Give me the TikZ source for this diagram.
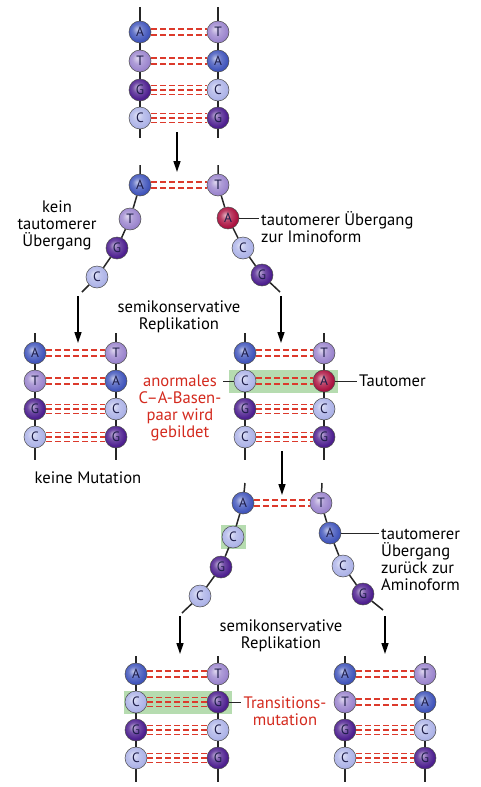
\documentclass[tikz,border=0pt]{standalone}
\usepackage{fontspec}
\setmainfont{PT Sans}
\usetikzlibrary{arrows.meta}

\definecolor{adenin}{HTML}{4256BC}
\definecolor{thymin}{HTML}{9C86CE}
\definecolor{guanin}{HTML}{4E2090}
\definecolor{cytosin}{HTML}{AEB4E8}
\definecolor{imino}{HTML}{AC1442}
\definecolor{bondred}{HTML}{DC3A2C}
\definecolor{notered}{HTML}{D42A1E}
\definecolor{boxgreen}{HTML}{B6DCB0}
\definecolor{letter}{HTML}{1C1C48}

% soft ball look for the bases
\newcommand{\nucshading}[2]{%
  \pgfdeclareradialshading{#1}{\pgfpoint{-7bp}{7bp}}{%
    color(0bp)=(#2!35!white); color(12bp)=(#2!80!white);
    color(24bp)=(#2); color(36bp)=(#2!80!black); color(50bp)=(#2!60!black)}}
\nucshading{shadeA}{adenin}
\nucshading{shadeT}{thymin}
\nucshading{shadeG}{guanin}
\nucshading{shadeC}{cytosin}
\nucshading{shadeI}{imino}

% hydrogen bonds: two for A-T, three for G-C
\newcommand{\hbtwo}[2]{%
  \draw[hb] ([yshift=3pt]#1.east) -- ([yshift=3pt]#2.west);
  \draw[hb] ([yshift=-3pt]#1.east) -- ([yshift=-3pt]#2.west);}
\newcommand{\hbthree}[2]{%
  \draw[hb] ([yshift=4.5pt]#1.east) -- ([yshift=4.5pt]#2.west);
  \draw[hb] (#1.east) -- (#2.west);
  \draw[hb] ([yshift=-4.5pt]#1.east) -- ([yshift=-4.5pt]#2.west);}

\begin{document}
\begin{tikzpicture}[x=1pt, y=-1pt,
  nuc/.style={circle, minimum size=22pt, inner sep=0pt, draw=black!70,
    line width=0.5pt, text=letter, font=\fontsize{13.5}{13.5}\selectfont},
  ade/.style={nuc, shading=shadeA},
  thy/.style={nuc, shading=shadeT},
  gua/.style={nuc, shading=shadeG},
  cyt/.style={nuc, shading=shadeC},
  imi/.style={nuc, shading=shadeI},
  strand/.style={line width=1.5pt, black!85},
  hb/.style={draw=bondred, line width=1.1pt, dash pattern=on 6pt off 3pt},
  repl/.style={line width=1.4pt, -{Triangle[length=11pt, width=7pt]}},
  lbl/.style={font=\fontsize{16.6}{17}\selectfont, align=center, inner sep=2pt},
  note/.style={lbl, text=notered},
  pointer/.style={line width=0.8pt, black!85},
  hilite/.style={fill=boxgreen}]

  \useasboundingbox[fill=white] (0,0) rectangle (481,787);

  \fill[hilite] (229,370) rectangle (338,393);
  \fill[hilite] (221,525) rectangle (246,549);
  \fill[hilite] (124,691) rectangle (232,714);

  % parent double strand
  \node[ade] (a1) at (140,32) {A};
  \node[thy] (a2) at (140,61) {T};
  \node[gua] (a3) at (140,90) {G};
  \node[cyt] (a4) at (140,118) {C};
  \node[thy] (b1) at (218,32) {T};
  \node[ade] (b2) at (218,61) {A};
  \node[cyt] (b3) at (218,90) {C};
  \node[gua] (b4) at (218,118) {G};
  \coordinate (a0) at (140,7);
  \coordinate (a5) at (140,138);
  \coordinate (b0) at (218,7);
  \coordinate (b5) at (218,138);

  % opening strands
  \node[ade] (c1) at (140,185) {A};
  \node[thy] (c2) at (130,219) {T};
  \node[gua] (c3) at (117,248) {G};
  \node[cyt] (c4) at (97,277) {C};
  \node[thy] (d1) at (218,185) {T};
  \node[imi] (d2) at (228,218) {A};
  \node[cyt] (d3) at (243,248) {C};
  \node[gua] (d4) at (262,275) {G};
  \coordinate (c0) at (140,165);
  \coordinate (c5) at (82,292);
  \coordinate (d0) at (218,165);
  \coordinate (d5) at (280,292);

  % first replication, left
  \node[ade] (e1) at (35,353) {A};
  \node[thy] (e2) at (35,381) {T};
  \node[gua] (e3) at (35,409) {G};
  \node[cyt] (e4) at (35,437) {C};
  \node[thy] (f1) at (116,353) {T};
  \node[ade] (f2) at (116,381) {A};
  \node[cyt] (f3) at (116,409) {C};
  \node[gua] (f4) at (116,437) {G};
  \coordinate (e0) at (35,333);
  \coordinate (e5) at (35,460);
  \coordinate (f0) at (116,333);
  \coordinate (f5) at (116,460);

  % first replication, right
  \node[ade] (g1) at (245,353) {A};
  \node[cyt] (g2) at (245,381) {C};
  \node[gua] (g3) at (245,409) {G};
  \node[cyt] (g4) at (245,437) {C};
  \node[thy] (h1) at (324,353) {T};
  \node[imi] (h2) at (324,381) {A};
  \node[cyt] (h3) at (324,409) {C};
  \node[gua] (h4) at (324,437) {G};
  \coordinate (g0) at (245,333);
  \coordinate (g5) at (245,460);
  \coordinate (h0) at (324,333);
  \coordinate (h5) at (324,460);

  % opening again
  \node[ade] (i1) at (243,503) {A};
  \node[cyt] (i2) at (233,537) {C};
  \node[gua] (i3) at (221,567) {G};
  \node[cyt] (i4) at (200,596) {C};
  \node[thy] (j1) at (321,503) {T};
  \node[ade] (j2) at (330,533) {A};
  \node[cyt] (j3) at (343,566) {C};
  \node[gua] (j4) at (363,594) {G};
  \coordinate (i0) at (245,483);
  \coordinate (i5) at (182,613);
  \coordinate (j0) at (322,483);
  \coordinate (j5) at (383,610);

  % second replication
  \node[ade] (k1) at (136,674) {A};
  \node[cyt] (k2) at (136,702) {C};
  \node[gua] (k3) at (136,730) {G};
  \node[cyt] (k4) at (136,758) {C};
  \node[thy] (l1) at (218,674) {T};
  \node[gua] (l2) at (218,702) {G};
  \node[cyt] (l3) at (218,730) {C};
  \node[gua] (l4) at (218,758) {G};
  \coordinate (k0) at (136,656);
  \coordinate (k5) at (136,782);
  \coordinate (l0) at (218,656);
  \coordinate (l5) at (218,782);

  \node[ade] (m1) at (345,674) {A};
  \node[thy] (m2) at (345,702) {T};
  \node[gua] (m3) at (345,730) {G};
  \node[cyt] (m4) at (345,758) {C};
  \node[thy] (n1) at (425,674) {T};
  \node[ade] (n2) at (425,702) {A};
  \node[cyt] (n3) at (425,730) {C};
  \node[gua] (n4) at (425,758) {G};
  \coordinate (m0) at (345,656);
  \coordinate (m5) at (345,782);
  \coordinate (n0) at (425,656);
  \coordinate (n5) at (425,782);

  % backbones
  \foreach \s in {a,b,c,d,e,f,g,h,i,j,k,l,m,n}
    \draw[strand] (\s0) -- (\s1) -- (\s2) -- (\s3) -- (\s4) -- (\s5);

  \hbtwo{a1}{b1} \hbtwo{a2}{b2} \hbthree{a3}{b3} \hbthree{a4}{b4}
  \hbtwo{c1}{d1}
  \hbtwo{e1}{f1} \hbtwo{e2}{f2} \hbthree{e3}{f3} \hbthree{e4}{f4}
  \hbtwo{g1}{h1} \hbtwo{g2}{h2} \hbthree{g3}{h3} \hbthree{g4}{h4}
  \hbtwo{i1}{j1}
  \hbtwo{k1}{l1} \hbthree{k2}{l2} \hbthree{k3}{l3} \hbthree{k4}{l4}
  \hbtwo{m1}{n1} \hbtwo{m2}{n2} \hbthree{m3}{n3} \hbthree{m4}{n4}

  % replication steps
  \coordinate (p0) at (177,132);
  \coordinate (p1) at (177,172);
  \coordinate (q0) at (78,296);
  \coordinate (q1) at (78,343);
  \coordinate (r0) at (281,296);
  \coordinate (r1) at (281,343);
  \coordinate (s0) at (282,451);
  \coordinate (s1) at (282,495);
  \coordinate (t0) at (180,616);
  \coordinate (t1) at (180,654);
  \coordinate (u0) at (385,616);
  \coordinate (u1) at (385,654);
  \draw[repl] (p0) -- (p1);
  \draw[repl] (q0) -- (q1);
  \draw[repl] (r0) -- (r1);
  \draw[repl] (s0) -- (s1);
  \draw[repl] (t0) -- (t1);
  \draw[repl] (u0) -- (u1);

  % labels
  \node[lbl] (keinlbl) at (57,225) {kein\\tautomerer\\Übergang};
  \node[lbl, align=left, anchor=west] (iminolbl) at (259,227)
    {tautomerer Übergang\\zur Iminoform};
  \draw[pointer] (d2) -- (d2 -| iminolbl.west);
  \node[lbl] (repl1) at (179,317) {semikonservative\\Replikation};
  \node[lbl] (keinmut) at (88,478) {keine Mutation};
  \node[note] (anorm) at (180,408) {anormales\\C--A-Basen-\\paar wird\\gebildet};
  \draw[pointer] (anorm.east |- g2) -- (g2);
  \node[lbl, anchor=west] (tautlbl) at (357,381) {Tautomer};
  \draw[pointer] (h2) -- (tautlbl);
  \node[lbl, align=left, anchor=west] (aminolbl) at (379,560)
    {tautomerer\\Übergang\\zurück zur\\Aminoform};
  \draw[pointer] (j2) -- (j2 -| aminolbl.west);
  \node[lbl] (repl2) at (281,636) {semikonservative\\Replikation};
  \node[note] (transl) at (285,711) {Transitions-\\mutation};
  \draw[pointer] (l2) -- (l2 -| transl.west);
\end{tikzpicture}
\end{document}
